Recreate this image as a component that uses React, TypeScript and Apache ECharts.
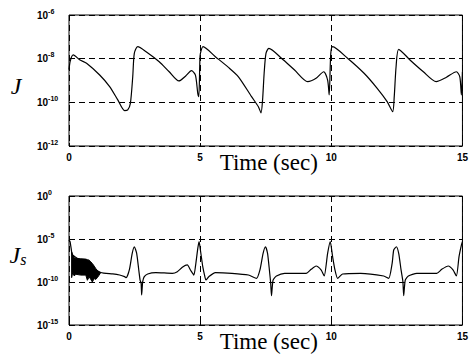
import React, { useEffect, useRef } from "react";
import * as echarts from "echarts";

// Top panel: J (log10 values)
const jTime = [0, 0.05, 0.16, 0.42, 0.67, 1.17, 1.55, 1.86, 2.12, 2.24, 2.34, 2.43, 2.49, 2.62, 2.94, 3.44, 3.82, 4.19, 4.45, 4.67, 4.82, 4.91, 4.95, 4.99, 5.01, 5.11, 5.58, 6.08, 6.46, 6.96, 7.22, 7.32, 7.38, 7.44, 7.51, 7.62, 8.1, 8.6, 9.1, 9.42, 9.71, 9.86, 9.92, 9.98, 10.05, 10.62, 11.25, 11.75, 12.13, 12.34, 12.4, 12.47, 12.57, 13.0, 13.51, 14.0, 14.39, 14.77, 14.9, 14.96, 15.0];
const jLog10 = [-8.5, -8.1, -7.83, -8.06, -8.21, -8.75, -9.28, -9.89, -10.38, -10.35, -10.05, -8.83, -7.76, -7.45, -7.68, -8.14, -8.6, -9.02, -8.79, -8.55, -8.75, -9.59, -9.74, -8.06, -7.76, -7.45, -7.91, -8.4, -8.83, -9.74, -10.2, -10.48, -9.89, -8.67, -7.76, -7.53, -7.98, -8.52, -9.05, -8.9, -8.6, -8.98, -9.66, -7.76, -7.45, -7.98, -8.67, -9.36, -9.97, -10.43, -9.74, -8.37, -7.57, -8.06, -8.6, -9.05, -8.85, -8.6, -8.83, -9.66, -8.6];

// Bottom panel: J_s
const jsTime = [0, 0.04, 0.08, 0.14, 1.21, 1.67, 1.93, 2.12, 2.18, 2.3, 2.41, 2.49, 2.58, 2.66, 2.71, 2.75, 2.77, 2.81, 2.87, 3.0, 3.31, 3.94, 4.13, 4.32, 4.51, 4.63, 4.76, 4.82, 4.91, 4.96, 5.01, 5.1, 5.18, 5.22, 5.33, 5.58, 6.21, 6.84, 7.15, 7.28, 7.4, 7.49, 7.57, 7.64, 7.69, 7.72, 7.78, 7.91, 8.22, 9.04, 9.23, 9.42, 9.61, 9.73, 9.86, 9.96, 10.05, 10.14, 10.24, 10.43, 11.12, 12.0, 12.19, 12.32, 12.38, 12.48, 12.57, 12.66, 12.73, 12.76, 12.82, 12.94, 13.26, 14.02, 14.21, 14.46, 14.64, 14.77, 14.87, 14.96, 15];
const jsLog10 = [-5.1, -5.32, -6.05, -6.87, -8.9, -9.05, -9.19, -9.38, -9.5, -8.6, -6.67, -5.9, -6.67, -8.6, -9.77, -10.16, -11.5, -9.96, -9.38, -9.07, -8.91, -8.99, -8.8, -8.29, -8.02, -8.6, -9.19, -8.22, -6.09, -5.3, -6.28, -8.22, -9.38, -9.77, -9.38, -8.91, -8.99, -9.19, -9.57, -8.6, -6.67, -5.9, -6.67, -8.6, -10.16, -11.6, -9.77, -9.3, -8.99, -8.99, -8.53, -8.14, -8.6, -9.3, -6.67, -5.3, -7.05, -8.6, -9.57, -9.07, -8.99, -9.3, -9.57, -7.83, -6.28, -5.9, -6.67, -8.6, -9.96, -11.6, -9.77, -9.3, -8.99, -8.99, -8.53, -8.14, -8.6, -9.3, -7.05, -5.7, -5.3];

// Early noisy band of J_s (upper and lower envelope)
const noiseTime = [0.1, 0.14, 0.2, 0.26, 0.45, 0.64, 0.7, 0.77, 0.83, 0.89, 0.96, 1.02, 1.08, 1.15, 1.21];
const noiseUpper = [-6.5, -6.87, -7.19, -7.25, -7.3, -7.34, -7.4, -7.46, -7.65, -7.85, -8.15, -8.43, -8.65, -8.83, -8.9];
const noiseLower = [-9.5, -8.9, -9.3, -9.1, -9.2, -9.2, -9.8, -9.4, -9.7, -10.0, -9.6, -9.7, -9.5, -9.2, -8.9];

const xTicks = [0, 5, 10, 15];

const pow10 = (e: number) => Math.pow(10, e);

export default function App() {
  const ref = useRef<HTMLDivElement>(null);
  useEffect(() => {
    if (!ref.current) return;
    const chart = echarts.init(ref.current, undefined, { renderer: "svg" });
    const dash = { color: "#000", type: [6, 4] as any, width: 1 };
    const yLabel = {
      color: "#000",
      align: "left" as const,
      margin: 32,
      formatter: (v: number) => `{b|10}{s|${Math.round(Math.log10(v))}}`,
      rich: {
        b: { fontSize: 10, fontWeight: "bold", fontFamily: "Liberation Sans", color: "#000" },
        s: { fontSize: 7, fontWeight: "bold", fontFamily: "Liberation Sans", color: "#000", padding: [0, 0, 8, 0] },
      },
    };
    const xAxisBase = (gridIndex: number) => ({
      type: "value",
      gridIndex,
      min: xTicks[0],
      max: xTicks[xTicks.length - 1],
      interval: 5,
      axisLine: { show: false },
      axisTick: { show: true, inside: true, length: 3, lineStyle: { color: "#000" } },
      axisLabel: { color: "#000", fontSize: 10, fontWeight: "bold", fontFamily: "Liberation Sans", margin: 6 },
      splitLine: { show: true, lineStyle: dash },
      name: "Time (sec)",
      nameLocation: "middle",
      nameGap: 5,
      nameMoveOverlap: false,
      nameTextStyle: { fontFamily: "Liberation Serif", fontSize: 23, color: "#000", padding: [0, 0, 0, 6] },
    });
    chart.setOption({
      animation: false,
      backgroundColor: "#fff",
      grid: [
        { left: 69, top: 15, width: 397, height: 131, show: true, borderColor: "#000", borderWidth: 1, backgroundColor: "transparent" },
        { left: 69, top: 196, width: 397, height: 129, show: true, borderColor: "#000", borderWidth: 1, backgroundColor: "transparent" },
      ],
      xAxis: [xAxisBase(0), xAxisBase(1)],
      yAxis: [
        {
          type: "log", logBase: 10, gridIndex: 0, min: 1e-12, max: 1e-6, interval: 2,
          axisLine: { show: false },
          axisTick: { show: true, inside: true, length: 3, lineStyle: { color: "#000" } },
          axisLabel: yLabel,
          splitLine: { show: true, lineStyle: dash },
        },
        {
          type: "log", logBase: 10, gridIndex: 1, min: 1e-15, max: 1, interval: 5,
          axisLine: { show: false },
          axisTick: { show: true, inside: true, length: 3, lineStyle: { color: "#000" } },
          axisLabel: yLabel,
          splitLine: { show: true, lineStyle: dash },
        },
      ],
      graphic: [
        {
          type: "text", x: 16, y: 86,
          style: { text: "J", font: "italic 24px 'Liberation Serif'", fill: "#000", align: "center", verticalAlign: "middle" },
        },
        {
          type: "text", x: 18, y: 255,
          style: {
            text: "{j|J}{s|s}", align: "center", verticalAlign: "middle",
            rich: {
              j: { fontFamily: "Liberation Serif", fontStyle: "italic", fontSize: 24, fill: "#000" },
              s: { fontFamily: "Liberation Serif", fontStyle: "italic", fontSize: 16, fill: "#000", padding: [8, 0, 0, 0] },
            },
          },
        },
      ],
      series: [
        {
          type: "line", xAxisIndex: 0, yAxisIndex: 0, showSymbol: false, smooth: 0.25,
          lineStyle: { color: "#000", width: 1.2 },
          data: jTime.map((t, i) => [t, pow10(jLog10[i])]),
        },
        {
          type: "line", xAxisIndex: 1, yAxisIndex: 1, showSymbol: false, smooth: 0.2,
          lineStyle: { color: "#000", width: 1.2 },
          data: jsTime.map((t, i) => [t, pow10(jsLog10[i])]),
        },
        {
          type: "custom", xAxisIndex: 1, yAxisIndex: 1,
          data: [[noiseTime[0], pow10(noiseUpper[0])]],
          renderItem: (_p: any, api: any) => {
            const up = noiseTime.map((t, i) => api.coord([t, pow10(noiseUpper[i])]));
            const lo = noiseTime.map((t, i) => api.coord([t, pow10(noiseLower[i])])).reverse();
            return {
              type: "polygon",
              shape: { points: up.concat(lo) },
              style: { fill: "#000", stroke: "#000", lineWidth: 1 },
            };
          },
        },
      ],
    });
    return () => chart.dispose();
  }, []);
  return <div ref={ref} style={{ position: "absolute", left: 0, top: 0, width: 471, height: 360 }} />;
}
